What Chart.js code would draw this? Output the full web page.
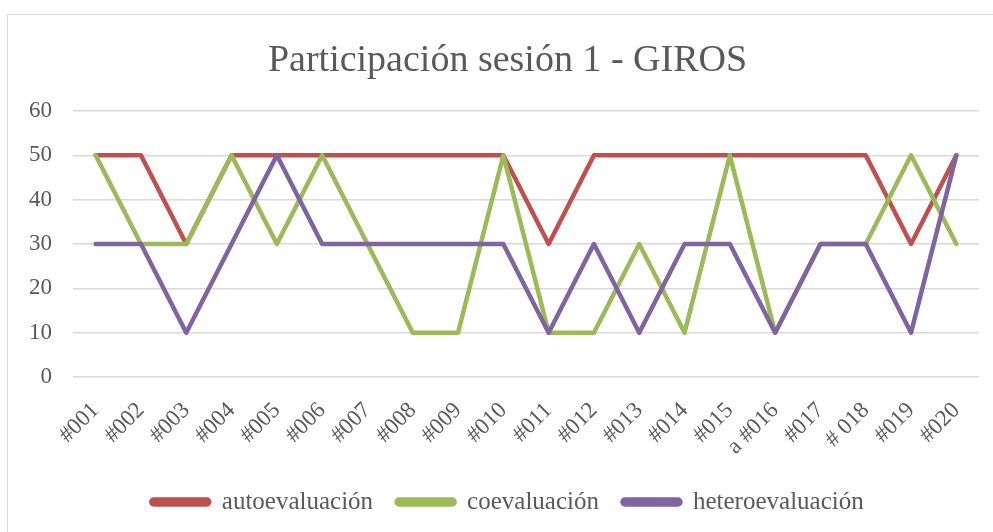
<!DOCTYPE html>
<html>
<head>
<meta charset="utf-8">
<script src="https://cdn.jsdelivr.net/npm/chart.js@4/dist/chart.umd.min.js"></script>
<style>
  html, body { margin: 0; padding: 0; background: #ffffff; overflow: hidden; width: 993px; height: 532px; }
  #frame { position: absolute; left: 7px; top: 14px; width: 1000px; height: 530px; border: 1px solid #d9d9d9; box-sizing: border-box; }
  #wrap { position: absolute; left: 0; top: 0; width: 1015px; height: 532px; }
</style>
</head>
<body>
<div id="frame"></div>
<div id="wrap"><canvas id="c" width="1015" height="532"></canvas></div>
<script>
const categories = ["#001","#002","#003","#004","#005","#006","#007","#008","#009","#010","#011","#012","#013","#014","#015","a #016","#017","# 018","#019","#020"];
const autoevaluacion = [50,50,30,50,50,50,50,50,50,50,30,50,50,50,50,50,50,50,30,50];
const coevaluacion = [50,30,30,50,30,50,30,10,10,50,10,10,30,10,50,10,30,30,50,30];
const heteroevaluacion = [30,30,10,30,50,30,30,30,30,30,10,30,10,30,30,10,30,30,10,50];
const yTicks = [0,10,20,30,40,50,60];
const titleText = "Participación sesión 1 - GIROS";

const FONT = "'Liberation Serif', serif";
const TXT = "#595959";

function ds(label, data, color, order) {
  return {
    label, data, order,
    borderColor: color, backgroundColor: color,
    borderWidth: 4.5, tension: 0, pointRadius: 0, pointHoverRadius: 0,
    borderCapStyle: 'round', borderJoinStyle: 'round', fill: false
  };
}

new Chart(document.getElementById('c'), {
  type: 'line',
  data: {
    labels: categories,
    datasets: [
      ds("autoevaluación", autoevaluacion, "#C0504D", 3),
      ds("coevaluación", coevaluacion, "#9BBB59", 2),
      ds("heteroevaluación", heteroevaluacion, "#8064A2", 1)
    ]
  },
  options: {
    responsive: false,
    animation: false,
    events: [],
    layout: { padding: { left: 0, right: 0, top: 0, bottom: 7.5 } },
    plugins: {
      tooltip: { enabled: false },
      title: {
        display: true, text: titleText, color: TXT,
        font: { family: FONT, size: 38, weight: 'normal', lineHeight: 1.2 },
        padding: { top: 38.2, bottom: 27.2 }
      },
      legend: {
        position: 'bottom',
        labels: {
          color: TXT,
          font: { family: FONT, size: 25 },
          boxWidth: 58, boxHeight: 5, padding: 23.5,
          useBorderRadius: true, borderRadius: 2.5,
          sort: (a, b) => a.datasetIndex - b.datasetIndex
        }
      }
    },
    scales: {
      x: {
        offset: true,
        grid: { display: false, drawTicks: false },
        border: { display: false },
        ticks: {
          color: TXT, font: { family: FONT, size: 23 },
          minRotation: 45, maxRotation: 45, autoSkip: false, padding: 20
        },
        afterFit: (s) => { s.height = 89; }
      },
      y: {
        min: 0, max: 60,
        grid: { color: "#d9d9d9", lineWidth: 1.5, drawTicks: false },
        border: { display: false },
        afterBuildTicks: (s) => { s.ticks = yTicks.map(v => ({ value: v })); },
        ticks: { color: TXT, font: { family: FONT, size: 23 }, padding: 21 },
        afterFit: (s) => { s.width = 73; }
      },
      yRight: {
        position: 'right',
        display: true,
        grid: { display: false, drawTicks: false },
        border: { display: false },
        ticks: { display: false },
        afterFit: (s) => { s.width = 36; }
      }
    }
  }
});
</script>
</body>
</html>
